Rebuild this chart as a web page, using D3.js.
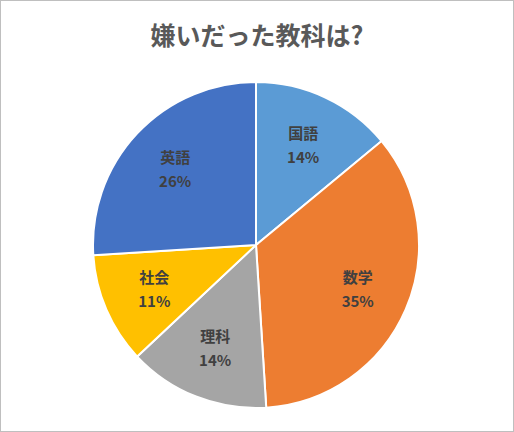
<!DOCTYPE html>
<html><head><meta charset="utf-8">
<script src="https://cdn.jsdelivr.net/npm/d3@7"></script>
<style>body{margin:0;background:#fff}</style>
</head><body>
<svg id="chart" width="514" height="432"></svg>
<script>
const subjects = ['国語', '数学', '理科', '社会', '英語'];
const percents = [14, 35, 14, 11, 26];
const colors = ['#5B9BD5', '#ED7D31', '#A5A5A5', '#FFC000', '#4472C4'];

const svg = d3.select('#chart');
const width = +svg.attr('width');
const height = +svg.attr('height');

svg.append('rect')
    .attr('x', 0.5).attr('y', 0.5)
    .attr('width', width - 1).attr('height', height - 1)
    .attr('fill', '#fff').attr('stroke', '#bfbfbf');

svg.append('text')
    .attr('x', width / 2).attr('y', 45)
    .attr('text-anchor', 'middle')
    .attr('fill', '#595959')
    .style('font', 'bold 25px "Noto Sans CJK JP", sans-serif')
    .text('嫌いだった教科は?');

const data = subjects.map((s, i) => ({name: s, value: percents[i], color: colors[i]}));
const radius = 163;
const pie = d3.pie().value(d => d.value).sort(null);
const arc = d3.arc().innerRadius(0).outerRadius(radius);
const labelArc = d3.arc().innerRadius(radius * 0.68).outerRadius(radius * 0.68);

const g = svg.append('g').attr('transform', 'translate(256,245)');

g.selectAll('path').data(pie(data))
    .enter().append('path')
        .attr('d', arc)
        .attr('fill', d => d.data.color)
        .attr('stroke', '#fff')
        .attr('stroke-width', 2);

// two separate text lines per slice
const lg = g.selectAll('g.lbl').data(pie(data))
    .enter().append('g')
        .attr('class', 'lbl')
        .attr('transform', d => `translate(${labelArc.centroid(d)})`)
        .attr('text-anchor', 'middle')
        .attr('fill', '#404040')
        .style('font', 'bold 15px "Noto Sans CJK JP", sans-serif');
lg.append('text').attr('y', -6).text(d => d.data.name);
lg.append('text').attr('y', 18).text(d => d.data.value + '%');
</script>
</body></html>
